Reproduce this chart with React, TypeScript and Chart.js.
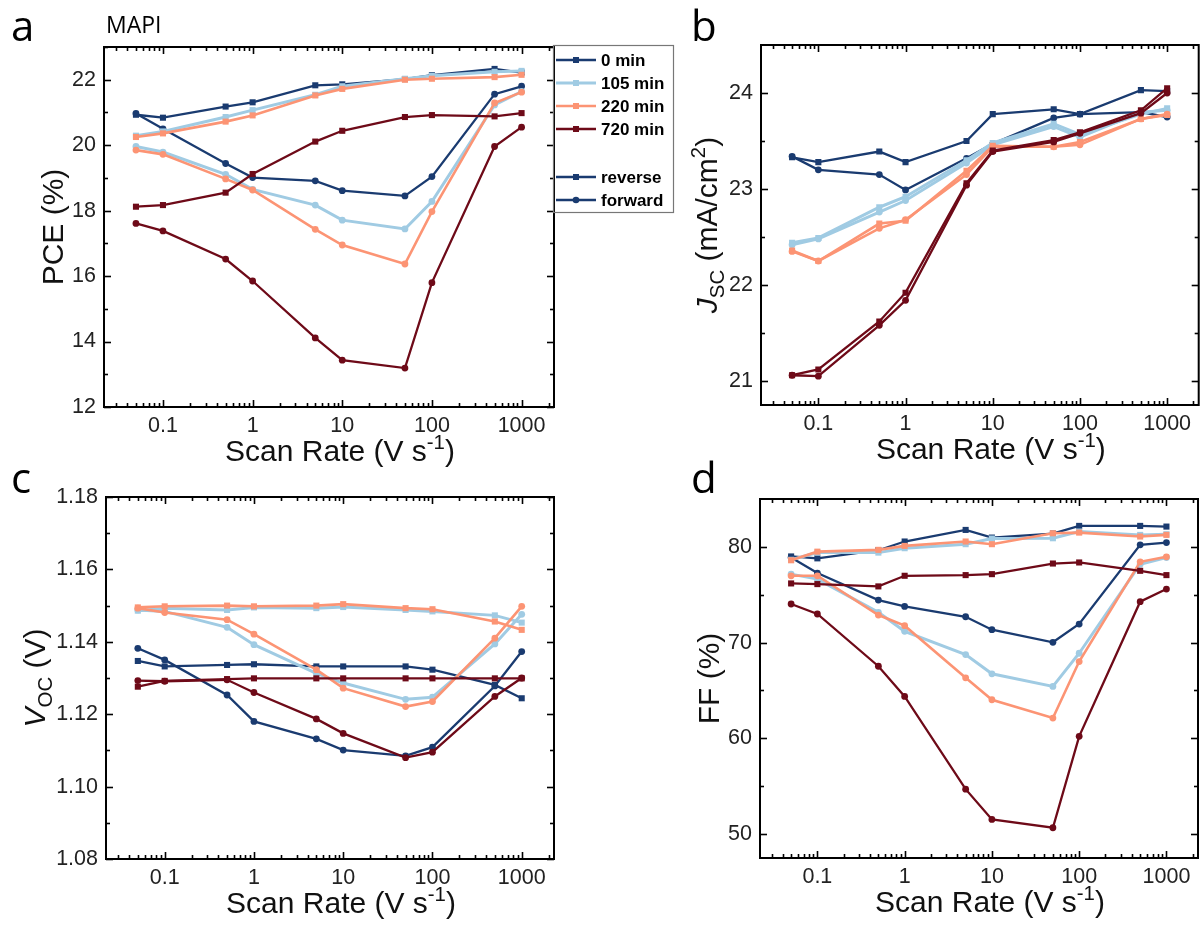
import React, { useEffect, useRef } from "react";
import { Chart, registerables } from "chart.js";

Chart.register(...registerables);

// ---------------- data ----------------
const scanRates = [0.05, 0.1, 0.5, 1, 5, 10, 50, 100, 500, 1000];
const ageLabels = ["0 min", "105 min", "220 min", "720 min"];
const ageColors = ["#1a3b70", "#a0cbe3", "#fc9474", "#6e0a18"];
const ageLineWidths = [2.3, 3, 2.6, 2.3];
const directionLabels = ["reverse", "forward"];
const xMajorTicks = [0.1, 1, 10, 100, 1000];

// PCE (%)
const pceRev0 = [20.93, 20.84, 21.18, 21.31, 21.83, 21.86, 22.02, 22.14, 22.33, 22.22];
const pceFwd0 = [20.97, 20.5, 19.44, 19.01, 18.91, 18.61, 18.45, 19.04, 21.56, 21.8];
const pceRev105 = [20.29, 20.42, 20.86, 21.07, 21.54, 21.8, 22.03, 22.12, 22.24, 22.27];
const pceFwd105 = [19.96, 19.79, 19.11, 18.65, 18.17, 17.71, 17.44, 18.28, 21.23, 21.64];
const pceRev220 = [20.25, 20.36, 20.72, 20.91, 21.52, 21.72, 22.0, 22.03, 22.08, 22.15];
const pceFwd220 = [19.85, 19.72, 18.97, 18.63, 17.43, 16.95, 16.37, 17.97, 21.29, 21.62];
const pceRev720 = [18.12, 18.17, 18.55, 19.12, 20.11, 20.44, 20.86, 20.92, 20.88, 20.98];
const pceFwd720 = [17.61, 17.38, 16.52, 15.85, 14.11, 13.43, 13.19, 15.8, 19.96, 20.55];

// Jsc (mA/cm2)
const jscRev0 = [23.33, 23.28, 23.39, 23.28, 23.5, 23.78, 23.83, 23.78, 24.03, 24.02];
const jscFwd0 = [23.34, 23.2, 23.15, 22.99, 23.32, 23.47, 23.74, 23.78, 23.8, 23.75];
const jscRev105 = [22.44, 22.49, 22.81, 22.92, 23.3, 23.48, 23.68, 23.57, 23.78, 23.84];
const jscFwd105 = [22.42, 22.48, 22.76, 22.88, 23.27, 23.46, 23.65, 23.54, 23.8, 23.82];
const jscRev220 = [22.36, 22.25, 22.64, 22.67, 23.19, 23.45, 23.44, 23.49, 23.73, 23.77];
const jscFwd220 = [22.35, 22.25, 22.59, 22.68, 23.15, 23.44, 23.44, 23.46, 23.73, 23.78];
const jscRev720 = [21.06, 21.12, 21.62, 21.92, 23.06, 23.4, 23.51, 23.59, 23.82, 24.05];
const jscFwd720 = [21.06, 21.05, 21.58, 21.84, 23.04, 23.39, 23.49, 23.58, 23.79, 24.0];

// Voc (V)
const vocRev0 = [1.1347, 1.1332, 1.1336, 1.1338, 1.1332, 1.1332, 1.1332, 1.1323, 1.1281, 1.1244];
const vocFwd0 = [1.1382, 1.135, 1.1253, 1.118, 1.1132, 1.1101, 1.1085, 1.1109, 1.1278, 1.1373];
const vocRev105 = [1.1486, 1.1493, 1.1488, 1.1495, 1.1493, 1.1496, 1.1488, 1.1484, 1.1473, 1.1453];
const vocFwd105 = [1.1488, 1.1484, 1.144, 1.1392, 1.1313, 1.1286, 1.1241, 1.1247, 1.1394, 1.1476];
const vocRev220 = [1.1495, 1.1498, 1.15, 1.1498, 1.15, 1.1504, 1.1493, 1.149, 1.1456, 1.1433];
const vocFwd220 = [1.1493, 1.1481, 1.1461, 1.1421, 1.1323, 1.1272, 1.1221, 1.1235, 1.141, 1.1498];
const vocRev720 = [1.1276, 1.1292, 1.1297, 1.1299, 1.1299, 1.1299, 1.1299, 1.1299, 1.1299, 1.1299];
const vocFwd720 = [1.1293, 1.1291, 1.1295, 1.126, 1.1187, 1.1147, 1.108, 1.1095, 1.1249, 1.13];

// FF (%)
const ffRev0 = [79.0, 78.8, 79.65, 80.56, 81.77, 80.97, 81.39, 82.19, 82.19, 82.12];
const ffFwd0 = [78.9, 77.26, 74.44, 73.78, 72.7, 71.35, 70.03, 71.94, 80.21, 80.45];
const ffRev105 = [78.65, 79.4, 79.4, 79.86, 80.28, 80.87, 80.9, 81.6, 81.25, 81.32];
const ffFwd105 = [77.15, 76.63, 73.16, 71.18, 68.75, 66.74, 65.42, 68.89, 78.19, 78.89];
const ffRev220 = [78.6, 79.5, 79.69, 80.1, 80.56, 80.28, 81.42, 81.49, 81.08, 81.25];
const ffFwd220 = [76.98, 76.98, 72.88, 71.77, 66.32, 64.03, 62.12, 68.02, 78.44, 78.96];
const ffRev720 = [76.18, 76.11, 75.87, 76.98, 77.05, 77.15, 78.26, 78.37, 77.5, 77.05];
const ffFwd720 = [74.03, 72.99, 67.53, 64.38, 54.69, 51.53, 50.66, 60.21, 74.27, 75.59];

// y-axis ticks
const pceMajor = [12, 14, 16, 18, 20, 22];
const pceMinor = [13, 15, 17, 19, 21, 23];
const jscMajor = [21, 22, 23, 24];
const jscMinor = [21.5, 22.5, 23.5];
const vocMajor = [1.08, 1.1, 1.12, 1.14, 1.16, 1.18];
const vocMinor = [1.09, 1.11, 1.13, 1.15, 1.17];
const ffMajor = [50, 60, 70, 80];
const ffMinor = [55, 65, 75];

// ---------------- helpers ----------------
const SANS = "'Liberation Sans', Arial, sans-serif";
const OPEN = "'Open Sans', 'Liberation Sans', sans-serif";
const TITLE_SIZE = 30;

type Part = { t: string; it?: boolean; sub?: boolean; sup?: boolean };

function drawRich(ctx: CanvasRenderingContext2D, parts: Part[], x: number, y: number, size: number) {
  const fontOf = (p: Part) => {
    const s = p.sub || p.sup ? size * 0.68 : size;
    return `${p.it ? "italic " : ""}${s}px ${SANS}`;
  };
  const widths = parts.map((p) => {
    ctx.font = fontOf(p);
    return ctx.measureText(p.t).width;
  });
  const total = widths.reduce((a, b) => a + b, 0);
  let cx = x - total / 2;
  ctx.textAlign = "left";
  ctx.textBaseline = "alphabetic";
  parts.forEach((p, i) => {
    ctx.font = fontOf(p);
    const dy = p.sub ? size * 0.24 : p.sup ? -size * 0.4 : 0;
    ctx.fillText(p.t, cx, y + dy);
    cx += widths[i];
  });
}

type PanelSpec = {
  id: string;
  x0: number;
  y0: number;
  w: number;
  h: number;
  L: number;
  R: number;
  T: number;
  B: number;
  yMin: number;
  yMax: number;
  yMajor: number[];
  yMinor: number[];
  yFmt: (v: number) => string;
  rev: number[][];
  fwd: number[][];
  yTitle: Part[];
  yTitleX: number;
  letter: string;
  letterX: number;
  letterY: number;
  legend?: boolean;
};

const xTitle: Part[] = [{ t: "Scan Rate (V s" }, { t: "-1", sup: true }, { t: ")" }];

function line(ctx: CanvasRenderingContext2D, x1: number, y1: number, x2: number, y2: number) {
  ctx.beginPath();
  ctx.moveTo(x1, y1);
  ctx.lineTo(x2, y2);
  ctx.stroke();
}

function drawMarker(ctx: CanvasRenderingContext2D, style: string, x: number, y: number, color: string) {
  ctx.fillStyle = color;
  if (style === "rect") {
    ctx.fillRect(x - 3, y - 3, 6, 6);
  } else {
    ctx.beginPath();
    ctx.arc(x, y, 3.3, 0, Math.PI * 2);
    ctx.fill();
  }
}

function makePlugin(spec: PanelSpec) {
  return {
    id: "decor" + spec.id,
    afterDraw(chart: any) {
      const ctx: CanvasRenderingContext2D = chart.ctx;
      const { left, right, top, bottom } = chart.chartArea;
      const xs = chart.scales.x;
      const ys = chart.scales.y;
      ctx.save();
      // frame
      ctx.strokeStyle = "#000";
      ctx.lineWidth = 2;
      ctx.strokeRect(left, top, right - left, bottom - top);
      // x ticks
      ctx.lineWidth = 1.6;
      for (let e = -2; e <= 3; e++) {
        for (let m = 1; m <= 9; m++) {
          const v = m * Math.pow(10, e);
          if (v < xs.min || v > xs.max) continue;
          const px = Math.round(xs.getPixelForValue(v)) + 0.5;
          const len = m === 1 ? 7 : 4;
          line(ctx, px, bottom, px, bottom - len);
          line(ctx, px, top, px, top + len);
        }
      }
      // y ticks
      const yTick = (v: number, len: number) => {
        const py = Math.round(ys.getPixelForValue(v)) + 0.5;
        line(ctx, left, py, left + len, py);
        line(ctx, right, py, right - len, py);
      };
      spec.yMajor.forEach((v) => yTick(v, 7));
      spec.yMinor.forEach((v) => yTick(v, 4));

      // titles
      ctx.fillStyle = "#111";
      drawRich(ctx, xTitle, (left + right) / 2 + 11, bottom + 54, TITLE_SIZE);
      ctx.save();
      ctx.translate(spec.yTitleX, (top + bottom) / 2);
      ctx.rotate(-Math.PI / 2);
      drawRich(ctx, spec.yTitle, 0, 0, TITLE_SIZE);
      ctx.restore();

      // panel letter
      ctx.fillStyle = "#000";
      ctx.font = `42px ${OPEN}`;
      ctx.textAlign = "left";
      ctx.textBaseline = "alphabetic";
      ctx.fillText(spec.letter, spec.letterX, spec.letterY);

      if (spec.legend) {
        ctx.font = `23px ${OPEN}`;
        ctx.fillText("MAPI", 106, 33);
        // legend box
        ctx.strokeStyle = "#777";
        ctx.lineWidth = 1.2;
        ctx.strokeRect(553.5, 45.5, 120, 167);
        ctx.font = `bold 17px ${SANS}`;
        ctx.textBaseline = "middle";
        const rows = [60, 83, 106, 129];
        ageLabels.forEach((lab, i) => {
          const y = rows[i];
          ctx.strokeStyle = ageColors[i];
          ctx.lineWidth = ageLineWidths[i];
          line(ctx, 556, y, 596, y);
          drawMarker(ctx, "rect", 576, y, ageColors[i]);
          ctx.fillStyle = "#000";
          ctx.fillText(lab, 601, y + 1);
        });
        const dRows = [177, 200];
        directionLabels.forEach((lab, i) => {
          const y = dRows[i];
          ctx.strokeStyle = ageColors[0];
          ctx.lineWidth = 2.3;
          line(ctx, 556, y, 596, y);
          drawMarker(ctx, i === 0 ? "rect" : "circle", 576, y, ageColors[0]);
          ctx.fillStyle = "#000";
          ctx.fillText(lab, 601, y + 1);
        });
      }
      ctx.restore();
    },
  };
}

function buildDatasets(spec: PanelSpec) {
  const ds: any[] = [];
  for (let i = 0; i < 4; i++) {
    const common = {
      borderColor: ageColors[i],
      backgroundColor: ageColors[i],
      pointBackgroundColor: ageColors[i],
      pointBorderColor: ageColors[i],
      borderWidth: ageLineWidths[i],
      pointBorderWidth: 0,
      tension: 0,
      order: 10 - i,
    };
    ds.push({
      ...common,
      label: ageLabels[i] + " reverse",
      data: scanRates.map((x, j) => ({ x, y: spec.rev[i][j] })),
      pointStyle: "rect",
      pointRadius: 4.3,
    });
    ds.push({
      ...common,
      label: ageLabels[i] + " forward",
      data: scanRates.map((x, j) => ({ x, y: spec.fwd[i][j] })),
      pointStyle: "circle",
      pointRadius: 3.4,
    });
  }
  return ds;
}

const Y_AXIS_W = 70;
const X_AXIS_H = 40;

function buildConfig(spec: PanelSpec): any {
  const tickFont = { family: SANS, size: 21.5 };
  return {
    type: "line",
    data: { datasets: buildDatasets(spec) },
    plugins: [makePlugin(spec)],
    options: {
      animation: false,
      responsive: false,
      maintainAspectRatio: false,
      events: [],
      layout: {
        padding: {
          left: spec.L - Y_AXIS_W,
          right: spec.w - spec.R,
          top: spec.T,
          bottom: spec.h - spec.B - X_AXIS_H,
        },
      },
      plugins: { legend: { display: false }, tooltip: { enabled: false }, title: { display: false } },
      scales: {
        x: {
          type: "logarithmic",
          min: 0.022,
          max: 2300,
          grid: { display: false, drawTicks: false },
          border: { display: false },
          afterBuildTicks: (s: any) => {
            s.ticks = xMajorTicks.map((v) => ({ value: v }));
          },
          afterFit: (s: any) => {
            s.height = X_AXIS_H;
          },
          ticks: {
            autoSkip: false,
            maxRotation: 0,
            minRotation: 0,
            padding: 6,
            color: "#222",
            font: tickFont,
            callback: (v: any) => String(v),
          },
        },
        y: {
          type: "linear",
          min: spec.yMin,
          max: spec.yMax,
          grid: { display: false, drawTicks: false },
          border: { display: false },
          afterBuildTicks: (s: any) => {
            s.ticks = spec.yMajor.map((v) => ({ value: v }));
          },
          afterFit: (s: any) => {
            s.width = Y_AXIS_W;
          },
          ticks: {
            autoSkip: false,
            padding: 8,
            color: "#222",
            font: tickFont,
            callback: (v: any) => spec.yFmt(Number(v)),
          },
        },
      },
    },
  };
}

const panels: PanelSpec[] = [
  {
    id: "a",
    x0: 0, y0: 0, w: 680, h: 478,
    L: 104, R: 554, T: 47, B: 407,
    yMin: 12, yMax: 23,
    yMajor: pceMajor, yMinor: pceMinor,
    yFmt: (v) => String(v),
    rev: [pceRev0, pceRev105, pceRev220, pceRev720],
    fwd: [pceFwd0, pceFwd105, pceFwd220, pceFwd720],
    yTitle: [{ t: "PCE (%)" }],
    yTitleX: 63,
    letter: "a", letterX: 11, letterY: 41,
    legend: true,
  },
  {
    id: "b",
    x0: 680, y0: 0, w: 523, h: 478,
    L: 81, R: 519, T: 45, B: 405,
    yMin: 20.75, yMax: 24.5,
    yMajor: jscMajor, yMinor: jscMinor,
    yFmt: (v) => String(v),
    rev: [jscRev0, jscRev105, jscRev220, jscRev720],
    fwd: [jscFwd0, jscFwd105, jscFwd220, jscFwd720],
    yTitle: [{ t: "J", it: true }, { t: "SC", sub: true }, { t: " (mA/cm" }, { t: "2", sup: true }, { t: ")" }],
    yTitleX: 37,
    letter: "b", letterX: 11, letterY: 41,
  },
  {
    id: "c",
    x0: 0, y0: 460, w: 600, h: 465,
    L: 106, R: 554, T: 37, B: 399,
    yMin: 1.08, yMax: 1.18,
    yMajor: vocMajor, yMinor: vocMinor,
    yFmt: (v) => v.toFixed(2),
    rev: [vocRev0, vocRev105, vocRev220, vocRev720],
    fwd: [vocFwd0, vocFwd105, vocFwd220, vocFwd720],
    yTitle: [{ t: "V", it: true }, { t: "OC", sub: true }, { t: " (V)" }],
    yTitleX: 45,
    letter: "c", letterX: 11, letterY: 33,
  },
  {
    id: "d",
    x0: 600, y0: 460, w: 603, h: 465,
    L: 160, R: 598, T: 39, B: 398,
    yMin: 47.5, yMax: 85,
    yMajor: ffMajor, yMinor: ffMinor,
    yFmt: (v) => String(v),
    rev: [ffRev0, ffRev105, ffRev220, ffRev720],
    fwd: [ffFwd0, ffFwd105, ffFwd220, ffFwd720],
    yTitle: [{ t: "FF (%)" }],
    yTitleX: 119,
    letter: "d", letterX: 91, letterY: 33,
  },
];

function Panel({ spec }: { spec: PanelSpec }) {
  const ref = useRef<HTMLCanvasElement>(null);
  useEffect(() => {
    const chart = new Chart(ref.current as HTMLCanvasElement, buildConfig(spec));
    return () => chart.destroy();
  }, [spec]);
  return (
    <canvas
      ref={ref}
      width={spec.w}
      height={spec.h}
      style={{ position: "absolute", left: spec.x0, top: spec.y0, width: spec.w, height: spec.h }}
    />
  );
}

export default function App() {
  return (
    <div style={{ position: "absolute", left: 0, top: 0, width: 1203, height: 925, background: "#fff", overflow: "hidden" }}>
      {panels.map((p) => (
        <Panel key={p.id} spec={p} />
      ))}
    </div>
  );
}
